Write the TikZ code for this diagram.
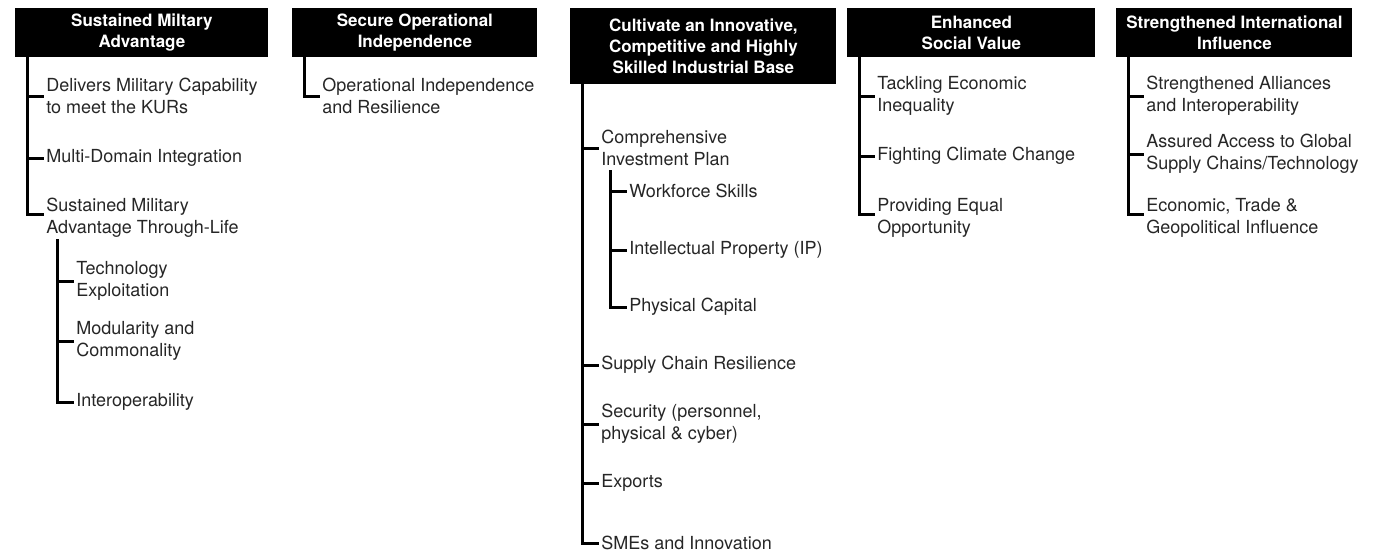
\documentclass[tikz,border=0pt]{standalone}
\usepackage{fontspec}
\setmainfont{TeX Gyre Heros}
\usetikzlibrary{calc}

\begin{document}
\begin{tikzpicture}[
  x=0.5pt, y=-0.5pt,
  HD/.style={fill=black, text=white, anchor=north west, align=center,
             inner sep=0pt, minimum height=24.5pt,
             font=\fontsize{8.5}{10.5}\selectfont\bfseries},
  IT/.style={anchor=west, align=left, inner xsep=2pt, inner ysep=0pt,
             text=black!85, font=\fontsize{9}{11}\selectfont},
  LN/.style={line width=1.5pt, line cap=rect}
]
  \useasboundingbox (0,0) rectangle (1376,552);

  % headers
  \node[HD, minimum width=126.5pt] (h1) at (15,8)   {Sustained Miltary\\Advantage};
  \node[HD, minimum width=122.5pt] (h2) at (292,8)  {Secure Operational\\Independence};
  \node[HD, minimum width=133pt, minimum height=38pt] (h3) at (570,8)
    {Cultivate an Innovative,\\Competitive and Highly\\Skilled Industrial Base};
  \node[HD, minimum width=124pt]   (h4) at (847,8)  {Enhanced\\Social Value};
  \node[HD, minimum width=118pt]   (h5) at (1116,8) {Strengthened International\\Influence};

  % column 1
  \node[IT] (c1a) at (42,96)  {Delivers Military Capability\\to meet the KURs};
  \node[IT] (c1b) at (42,158) {Multi-Domain Integration};
  \node[IT] (c1c) at (42,218) {Sustained Military\\Advantage Through-Life};
  \node[IT] (c1d) at (72,281) {Technology\\Exploitation};
  \node[IT] (c1e) at (72,341) {Modularity and\\Commonality};
  \node[IT] (c1f) at (72,402) {Interoperability};

  % column 2
  \node[IT] (c2a) at (318,96) {Operational Independence\\and Resilience};

  % column 3
  \node[IT] (c3a) at (597,148) {Comprehensive\\Investment Plan};
  \node[IT] (c3b) at (625,191) {Workforce Skills};
  \node[IT] (c3c) at (625,250) {Intellectual Property (IP)};
  \node[IT] (c3d) at (625,307) {Physical Capital};
  \node[IT] (c3e) at (597,365) {Supply Chain Resilience};
  \node[IT] (c3f) at (597,424) {Security (personnel,\\physical \& cyber)};
  \node[IT] (c3g) at (597,483) {Exports};
  \node[IT] (c3h) at (597,543) {SMEs and Innovation};

  % column 4
  \node[IT] (c4a) at (873,96)  {Tackling Economic\\Inequality};
  \node[IT] (c4b) at (873,156) {Fighting Climate Change};
  \node[IT] (c4c) at (873,218) {Providing Equal\\Opportunity};

  % column 5
  \node[IT] (c5a) at (1142,96)  {Strengthened Alliances\\and Interoperability};
  \node[IT] (c5b) at (1142,154) {Assured Access to Global\\Supply Chains/Technology};
  \node[IT] (c5c) at (1142,218) {Economic, Trade \&\\Geopolitical Influence};

  % trunks
  \foreach \h in {1,...,5}
    \coordinate (t\h) at ($(h\h.south west)+(12,0)$);
  \coordinate (s1) at ($(c1c.south west)+(15,2)$);
  \coordinate (s3) at ($(c3a.south west)+(13,5)$);

  \foreach \t/\n/\d in {t1/c1c/2,s1/c1f/0,t2/c2a/0,t3/c3h/0,s3/c3d/0,t4/c4c/2,t5/c5c/2}
    \draw[LN] (\t) |- ([yshift=\d pt]\n.west);
  \foreach \t/\n in {t1/c1a,t1/c1b,s1/c1d,s1/c1e,t3/c3a,s3/c3b,s3/c3c,
                     t3/c3e,t3/c3f,t3/c3g,t4/c4a,t4/c4b,t5/c5a,t5/c5b}
    \draw[LN] (\n.west) -- (\n.west -| \t);
\end{tikzpicture}
\end{document}
